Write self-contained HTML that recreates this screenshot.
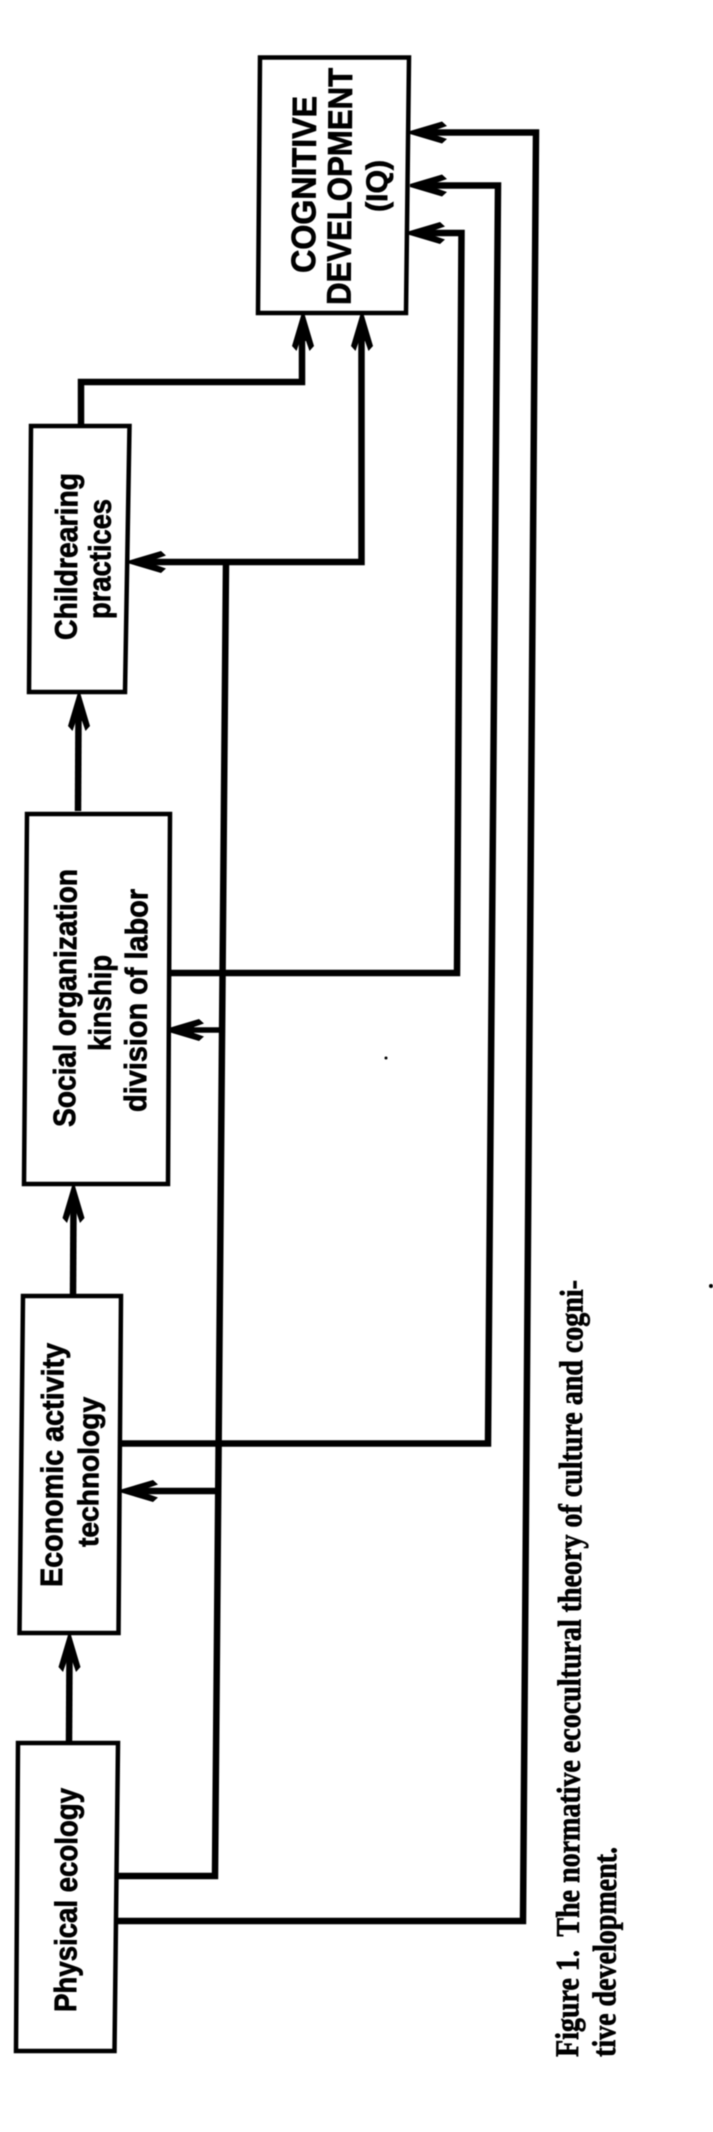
<!DOCTYPE html>
<html lang="en">
<head>
<meta charset="utf-8">
<title>Figure 1</title>
<style>
html,body{margin:0;padding:0;background:#fff;}
svg{display:block;}
.s{font-family:"Liberation Sans",sans-serif;font-weight:bold;fill:#000;stroke:#000;stroke-width:.7;}
.c{font-family:"Liberation Serif",serif;font-weight:bold;fill:#000;stroke:#000;stroke-width:.7;}
</style>
</head>
<body>
<svg width="713" height="2132" viewBox="0 0 713 2132" xmlns="http://www.w3.org/2000/svg">
<defs>
<filter id="b" x="-2%" y="-2%" width="104%" height="104%"><feGaussianBlur stdDeviation="0.4"/></filter>
<path id="ah" d="M0 -1.5 L32 -11 L37 -6.5 L27 -3 L27 3 L37 6.5 L32 11 L0 1.5 Z" fill="#000"/>
</defs>
<rect width="713" height="2132" fill="#fff"/>
<g filter="url(#b)">
<g fill="none" stroke="#000" stroke-width="4.5" stroke-linejoin="miter">
<path d="M260 57.5 L409 57.5 L406 313 L258 313 Z"/>
<path d="M31 426 L129.5 426 L125 692 L29 692 Z"/>
<path d="M27 814 L170 814 L168 1184 L24 1184 Z"/>
<path d="M23 1296 L121 1296 L118.5 1633 L19.5 1633 Z"/>
<path d="M18 1743 L118 1743 L114.5 2051 L16 2051 Z"/>
</g>
<g fill="none" stroke="#000" stroke-width="6.5" stroke-linejoin="miter">
<path d="M117 1921 L523 1921 L536 132.5 L430 132.5"/>
<path d="M122 1443.5 L488 1443.5 L498 185.5 L430 185.5"/>
<path d="M169 973 L457 973 L461.5 233 L430 233"/>
<path d="M117 1876 L215 1876 L226 562"/>
<path d="M81 424 L81 382 L302 382 L302 335"/>
<path d="M150 562 L361.5 562 L361.5 335"/>
<path d="M78 811 L78.5 715"/>
<path d="M73 1297 L73.5 1205"/>
<path d="M69 1742 L69.5 1655"/>
<path d="M190 1030 L223 1030" stroke-width="5.5"/>
<path d="M145 1491 L218 1491"/>
</g>
<use href="#ah" transform="translate(410 132.5)"/>
<use href="#ah" transform="translate(410 185.5)"/>
<use href="#ah" transform="translate(408 233)"/>
<use href="#ah" transform="translate(129 562)"/>
<use href="#ah" transform="translate(167 1030)"/>
<use href="#ah" transform="translate(121 1491)"/>
<use href="#ah" transform="translate(303 314) rotate(90)"/>
<use href="#ah" transform="translate(362 314) rotate(90)"/>
<use href="#ah" transform="translate(79 694) rotate(90)"/>
<use href="#ah" transform="translate(73.5 1186) rotate(90)"/>
<use href="#ah" transform="translate(69.5 1635) rotate(90)"/>
<circle cx="386" cy="1058" r="1.5" fill="#000"/>
<circle cx="711" cy="1286" r="2" fill="#000"/>

<text class="s" font-size="34" transform="translate(315 273) rotate(-89.6)" textLength="177" lengthAdjust="spacingAndGlyphs">COGNITIVE</text>
<text class="s" font-size="34" transform="translate(350.5 305) rotate(-89.6)" textLength="237" lengthAdjust="spacingAndGlyphs">DEVELOPMENT</text>
<text class="s" font-size="30" transform="translate(387 212) rotate(-89.6)" textLength="52" lengthAdjust="spacingAndGlyphs">(IQ)</text>

<text class="s" font-size="31" transform="translate(76.5 640) rotate(-89.6)" textLength="167" lengthAdjust="spacingAndGlyphs">Childrearing</text>
<text class="s" font-size="31" transform="translate(110 619) rotate(-89.6)" textLength="120" lengthAdjust="spacingAndGlyphs">practices</text>

<text class="s" font-size="31" transform="translate(75 1127) rotate(-89.6)" textLength="258" lengthAdjust="spacingAndGlyphs">Social organization</text>
<text class="s" font-size="31" transform="translate(110.5 1051) rotate(-89.6)" textLength="96" lengthAdjust="spacingAndGlyphs">kinship</text>
<text class="s" font-size="31" transform="translate(146 1112) rotate(-89.6)" textLength="223" lengthAdjust="spacingAndGlyphs">division of labor</text>

<text class="s" font-size="31" transform="translate(62 1587) rotate(-89.6)" textLength="244" lengthAdjust="spacingAndGlyphs">Economic activity</text>
<text class="s" font-size="29" transform="translate(98 1547) rotate(-89.6)" textLength="150" lengthAdjust="spacingAndGlyphs">technology</text>

<text class="s" font-size="31" transform="translate(76 2012) rotate(-89.6)" textLength="224" lengthAdjust="spacingAndGlyphs">Physical ecology</text>

<text class="c" font-size="33" transform="translate(578 2057) rotate(-89.65)" textLength="777" lengthAdjust="spacingAndGlyphs">Figure 1.&#160; The normative ecocultural theory of culture and cogni-</text>
<text class="c" font-size="33" transform="translate(615 2057) rotate(-89.65)" textLength="210" lengthAdjust="spacingAndGlyphs">tive development.</text>
</g>
</svg>
</body>
</html>
